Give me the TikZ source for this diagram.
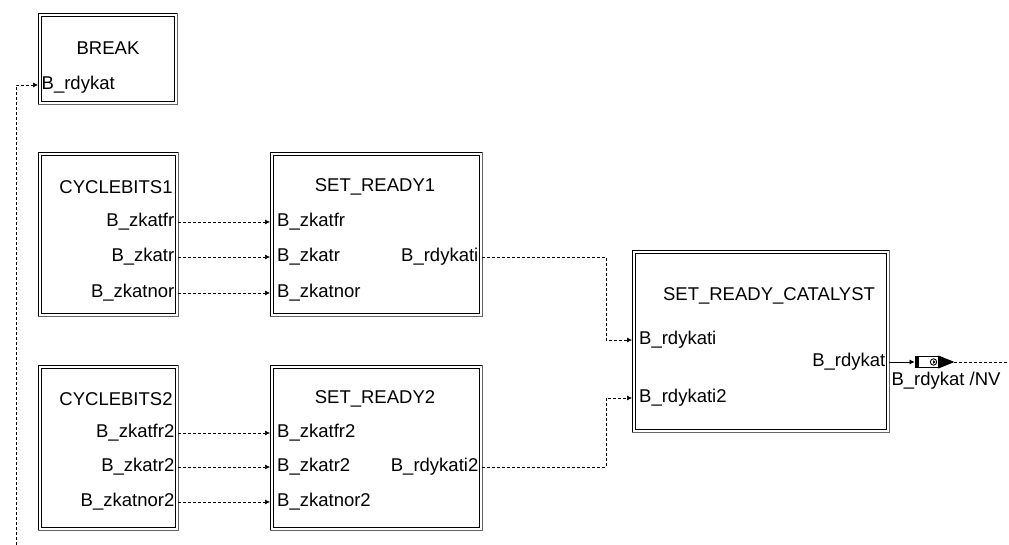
\documentclass[tikz,border=0pt]{standalone}
\usepackage{fontspec}
\setmainfont{Liberation Sans}
\usetikzlibrary{arrows.meta}

\tikzset{
  blk/.style={anchor=north west, inner sep=0pt},
  ttl/.style={anchor=center, inner sep=0pt, font=\fontsize{18.5}{22}\selectfont},
  pin/.style={anchor=west, inner sep=7pt, font=\fontsize{18.5}{22}\selectfont},
  pout/.style={anchor=east, inner sep=3.5pt, font=\fontsize{18.5}{22}\selectfont},
  wire/.style={line width=0.6pt, dash pattern=on 3pt off 2pt,
               -{Latex[length=5pt,width=5pt]}},
}

\begin{document}
\begin{tikzpicture}[x=1pt, y=-1pt]

  %% ════ 模块框 ════
  \node[blk, minimum width=139, minimum height=91]  (brk) at (38,13)   {};
  \node[blk, minimum width=140, minimum height=164] (cb1) at (38,152)  {};
  \node[blk, minimum width=212, minimum height=164] (sr1) at (270,152) {};
  \node[blk, minimum width=140, minimum height=165] (cb2) at (38,365)  {};
  \node[blk, minimum width=212, minimum height=165] (sr2) at (270,365) {};
  \node[blk, minimum width=257, minimum height=182] (cat) at (632,250) {};

  % 双线框：外框左上黑、右下灰，内框黑
  \foreach \b in {brk,cb1,sr1,cb2,sr2,cat}{
    \draw[line width=0.9pt] (\b.south west) -- (\b.north west) -- (\b.north east);
    \draw[gray!80!black, line width=1.6pt] (\b.north east) -- (\b.south east) -- (\b.south west);
    \draw[line width=0.9pt] ([xshift=3pt,yshift=-3pt]\b.north west) rectangle ([xshift=-3pt,yshift=3pt]\b.south east);
  }

  %% ════ 标题 ════
  \node[ttl] (brkt) at (108,48)  {BREAK};
  \node[ttl] (cb1t) at (116,187) {CYCLEBITS1};
  \node[ttl] (sr1t) at (375,187) {SET\_READY1};
  \node[ttl] (cb2t) at (116,399) {CYCLEBITS2};
  \node[ttl] (sr2t) at (375,399) {SET\_READY2};
  \node[ttl] (catt) at (769,296) {SET\_READY\_CATALYST};

  %% ════ 端口 ════
  \node[pin, inner sep=3.5pt] (brkin) at (38,85) {B\_rdykat};

  \node[pout] (cb1o1) at (178,222) {B\_zkatfr};
  \node[pout] (cb1o2) at (178,257) {B\_zkatr};
  \node[pout] (cb1o3) at (178,293) {B\_zkatnor};
  \node[pin]  (sr1i1) at (270,222) {B\_zkatfr};
  \node[pin]  (sr1i2) at (270,257) {B\_zkatr};
  \node[pin]  (sr1i3) at (270,293) {B\_zkatnor};
  \node[pout] (sr1o)  at (482,257) {B\_rdykati};

  \node[pout] (cb2o1) at (178,433) {B\_zkatfr2};
  \node[pout] (cb2o2) at (178,467) {B\_zkatr2};
  \node[pout] (cb2o3) at (178,502) {B\_zkatnor2};
  \node[pin]  (sr2i1) at (270,433) {B\_zkatfr2};
  \node[pin]  (sr2i2) at (270,467) {B\_zkatr2};
  \node[pin]  (sr2i3) at (270,502) {B\_zkatnor2};
  \node[pout] (sr2o)  at (482,467) {B\_rdykati2};

  \node[pin]  (cati1) at (632,340) {B\_rdykati};
  \node[pin]  (cati2) at (632,398) {B\_rdykati2};
  \node[pout] (cato)  at (889,362) {B\_rdykat};

  %% ════ 连线 ════
  \coordinate (feed) at (16,545);
  \draw[wire] (feed) |- (brkin.west);

  \draw[wire] (cb1o1.east) -- (sr1i1.west);
  \draw[wire] (cb1o2.east) -- (sr1i2.west);
  \draw[wire] (cb1o3.east) -- (sr1i3.west);
  \draw[wire] (cb2o1.east) -- (sr2i1.west);
  \draw[wire] (cb2o2.east) -- (sr2i2.west);
  \draw[wire] (cb2o3.east) -- (sr2i3.west);

  \draw[wire] (sr1o.east) -| ([xshift=-26pt]cati1.west) -- (cati1.west);
  \draw[wire] (sr2o.east) -| ([xshift=-26pt]cati2.west) -- (cati2.west);

  %% ════ 输出 /NV ════
  \node[draw, line width=0.9pt, minimum width=23, minimum height=11, inner sep=0pt] (nv) at (926.5,362) {};
  \fill (nv.north west) rectangle ([xshift=4pt]nv.south west);
  \draw[line width=0.9pt] ([xshift=7pt]nv.center) circle (3.2);
  \fill ([xshift=6.5pt,yshift=1.8pt]nv.center) -- ([xshift=9pt]nv.center) -- ([xshift=6.5pt,yshift=-1.8pt]nv.center) -- cycle;
  \fill (nv.east) ++(0,-6.5) -- ++(16,6.5) -- ++(-16,6.5) -- cycle;
  \coordinate (nvtip) at ([xshift=16pt]nv.east);
  \coordinate (nvend) at (1009,362);
  \draw[line width=0.6pt, -{Latex[length=5pt,width=5pt]}] (cato.east) -- (nv.west);
  \draw[line width=0.6pt, dash pattern=on 3pt off 2pt] (nvtip) -- (nvend);
  \node[ttl] (nvl) at (946,381) {B\_rdykat /NV};

  \pgfresetboundingbox
  \path[use as bounding box] (0,0) rectangle (1009,545);
\end{tikzpicture}
\end{document}
